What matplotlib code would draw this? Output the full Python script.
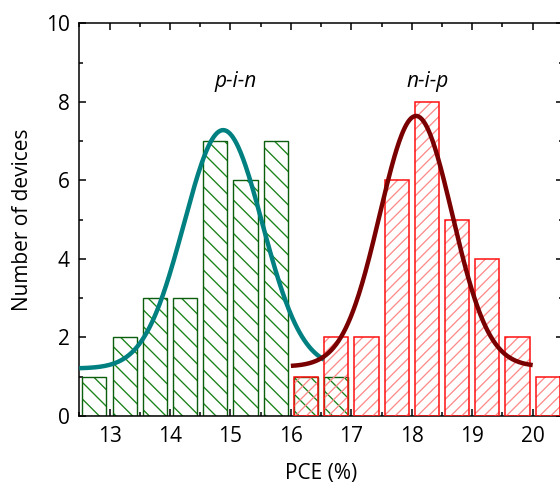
import numpy as np
import matplotlib
matplotlib.use('Agg')
import matplotlib.pyplot as plt
from matplotlib.ticker import MultipleLocator

plt.rcParams['font.family'] = ['Open Sans', 'DejaVu Sans']
plt.rcParams['hatch.linewidth'] = 0.95

# histogram data (bin centres, counts)
pin_centers = [12.75, 13.25, 13.75, 14.25, 14.75, 15.25, 15.75, 16.25, 16.75]
pin_counts = [1, 2, 3, 3, 7, 6, 7, 1, 1]
nip_centers = [16.25, 16.75, 17.25, 17.75, 18.25, 18.75, 19.25, 19.75, 20.25]
nip_counts = [1, 2, 2, 6, 8, 5, 4, 2, 1]

# gaussian fits: y0, A, xc, sigma, x range
pin_fit = dict(y0=1.21, A=6.07, xc=14.88, s=0.65, x0=12.5, x1=16.55)
nip_fit = dict(y0=1.26, A=6.38, xc=18.07, s=0.60, x0=16.0, x1=20.0)

bar_w = 0.4

def gauss(p):
    x = np.linspace(p['x0'], p['x1'], 300)
    return x, p['y0'] + p['A'] * np.exp(-(x - p['xc'])**2 / (2 * p['s']**2))

fig = plt.figure(figsize=(5.6, 4.87), dpi=100)
ax = fig.add_axes([0.1416, 0.1458, 0.8636, 0.8064])

# p-i-n bars
ax.bar(pin_centers, pin_counts, width=bar_w, facecolor='none',
       edgecolor='#178317', hatch='\\\\', linewidth=0, zorder=2)
ax.bar(pin_centers, pin_counts, width=bar_w, facecolor='none',
       edgecolor='#0b5e0b', linewidth=1.0, zorder=2)

# n-i-p bars
ax.bar(nip_centers, nip_counts, width=bar_w, facecolor='none',
       edgecolor='#ff8c8c', hatch='///', linewidth=0, zorder=3)
ax.bar(nip_centers, nip_counts, width=bar_w, facecolor='none',
       edgecolor='#ff1010', linewidth=1.1, zorder=3)

x, y = gauss(pin_fit)
ax.plot(x, y, color='#008080', linewidth=3.2, zorder=4, solid_capstyle='butt')
x, y = gauss(nip_fit)
ax.plot(x, y, color='#7a0000', linewidth=3.2, zorder=5, solid_capstyle='butt')

ax.text(15.09, 8.39, 'p-i-n', style='italic', fontsize=15, ha='center', va='baseline')
ax.text(18.26, 8.39, 'n-i-p', style='italic', fontsize=15, ha='center', va='baseline')

ax.set_xlim(12.5, 20.5)
ax.set_ylim(0, 10)
ax.xaxis.set_major_locator(MultipleLocator(1))
ax.xaxis.set_minor_locator(MultipleLocator(0.5))
ax.yaxis.set_major_locator(MultipleLocator(2))
ax.yaxis.set_minor_locator(MultipleLocator(1))
ax.tick_params(which='both', direction='in', top=True, right=True, width=1.1,
               labelsize=15)
ax.tick_params(which='major', length=5, pad=7)
ax.tick_params(which='minor', length=3)
for sp in ax.spines.values():
    sp.set_linewidth(1.1)

ax.set_xlabel('PCE (%)', fontsize=15, labelpad=12)
ax.set_ylabel('Number of devices', fontsize=15, labelpad=9)

fig.savefig('out.png', dpi=100)
